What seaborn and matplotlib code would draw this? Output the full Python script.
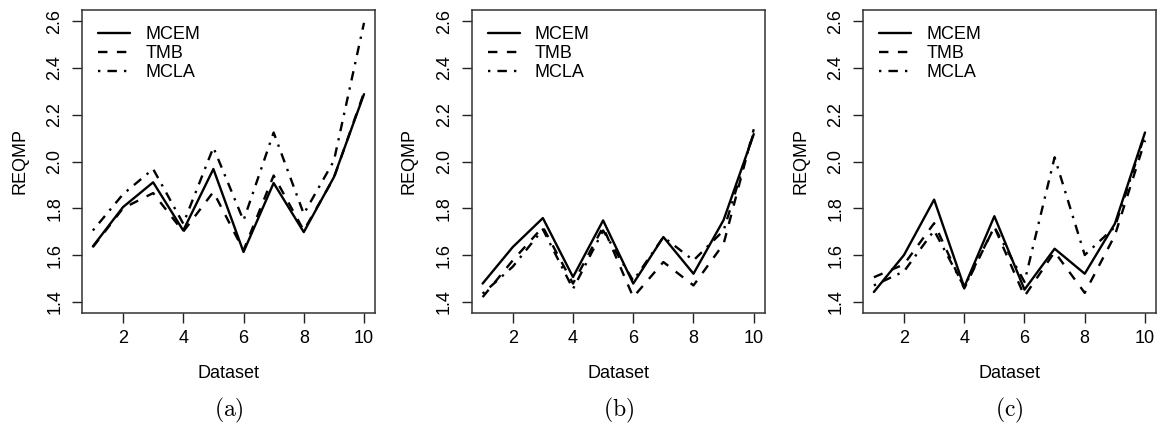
import numpy as np
import pandas as pd
import matplotlib
matplotlib.use("Agg")
import matplotlib.pyplot as plt
import seaborn as sns

datasets = list(range(1, 11))
methods = ["MCEM", "TMB", "MCLA"]
panel_labels = ["(a)", "(b)", "(c)"]

# REQMP per dataset, panel (a)
a_mcem = [1.637, 1.805, 1.911, 1.705, 1.968, 1.613, 1.908, 1.698, 1.933, 2.288]
a_tmb = [1.634, 1.800, 1.865, 1.700, 1.870, 1.620, 1.940, 1.705, 1.930, 2.295]
a_mcla = [1.705, 1.860, 1.968, 1.734, 2.060, 1.748, 2.124, 1.776, 2.003, 2.593]

# panel (b)
b_mcem = [1.478, 1.634, 1.758, 1.506, 1.748, 1.478, 1.677, 1.520, 1.750, 2.117]
b_tmb = [1.420, 1.577, 1.720, 1.478, 1.720, 1.420, 1.570, 1.470, 1.648, 2.138]
b_mcla = [1.435, 1.550, 1.710, 1.455, 1.705, 1.490, 1.677, 1.577, 1.705, 2.124]

# panel (c)
c_mcem = [1.442, 1.600, 1.837, 1.463, 1.766, 1.452, 1.627, 1.520, 1.734, 2.124]
c_tmb = [1.505, 1.560, 1.736, 1.457, 1.720, 1.424, 1.613, 1.438, 1.684, 2.090]
c_mcla = [1.470, 1.530, 1.705, 1.463, 1.720, 1.485, 2.018, 1.600, 1.720, 2.117]

panels = [
    {"MCEM": a_mcem, "TMB": a_tmb, "MCLA": a_mcla},
    {"MCEM": b_mcem, "TMB": b_tmb, "MCLA": b_mcla},
    {"MCEM": c_mcem, "TMB": c_tmb, "MCLA": c_mcla},
]

y_ticks = [1.4, 1.6, 1.8, 2.0, 2.2, 2.4, 2.6]
x_ticks = [2, 4, 6, 8, 10]

sns.set_theme(style="white")
plt.rcParams["font.family"] = ["Liberation Sans", "DejaVu Sans"]
plt.rcParams["mathtext.fontset"] = "cm"
plt.rcParams["text.color"] = "black"
plt.rcParams["axes.labelcolor"] = "black"
plt.rcParams["xtick.color"] = "black"
plt.rcParams["ytick.color"] = "black"

# R-style line types: solid, dashed (lty=2), dot-dash (lty=4)
dash_map = {"MCEM": "", "TMB": (4, 4), "MCLA": (1, 3, 4, 3)}
LW = 1.7
FS = 13

fig = plt.figure(figsize=(11.62, 4.25), dpi=100)
lefts = [0.0706, 0.406, 0.7427]
width = 0.252
bottom = 0.2635
height = 0.713

for i, data in enumerate(panels):
    ax = fig.add_axes([lefts[i], bottom, width, height])
    df = pd.DataFrame(
        [(d, m, v) for m in methods for d, v in zip(datasets, data[m])],
        columns=["Dataset", "Method", "REQMP"],
    )
    sns.lineplot(
        data=df, x="Dataset", y="REQMP", style="Method", style_order=methods,
        dashes=dash_map, color="black", linewidth=LW, ax=ax, legend=False,
    )
    ax.set_xlim(0.64, 10.36)
    ax.set_ylim(1.352, 2.648)
    ax.set_xticks(x_ticks)
    ax.set_yticks(y_ticks)
    ax.set_yticklabels([f"{t:.1f}" for t in y_ticks], rotation=90, va="center")
    ax.tick_params(axis="both", direction="out", length=7.5, width=1.0,
                   color="#222222", labelcolor="black", labelsize=FS,
                   bottom=True, left=True)
    ax.tick_params(axis="x", pad=5)
    ax.tick_params(axis="y", pad=6)
    for sp in ax.spines.values():
        sp.set_color("#333333")
        sp.set_linewidth(1.1)
    ax.set_xlabel("Dataset", fontsize=FS, labelpad=13, color="black")
    ax.set_ylabel("REQMP", fontsize=FS, labelpad=13, color="black")

    handles = [
        plt.Line2D([], [], color="black", lw=LW, linestyle="-"),
        plt.Line2D([], [], color="black", lw=LW, linestyle=(0, (4, 4))),
        plt.Line2D([], [], color="black", lw=LW, linestyle=(0, (1, 3, 4, 3))),
    ]
    leg = ax.legend(handles, methods, loc="upper left", frameon=False,
                    fontsize=FS, handlelength=1.75, handletextpad=0.85,
                    labelspacing=0.1, borderaxespad=0.5,
                    bbox_to_anchor=(0.0, 1.0))
    for t in leg.get_texts():
        t.set_color("black")

    fig.text(lefts[i] + width / 2, 0.035, r"$\mathrm{" + panel_labels[i] + "}$",
             ha="center", va="center", fontsize=17, color="black")

fig.savefig("out.png", dpi=100)
